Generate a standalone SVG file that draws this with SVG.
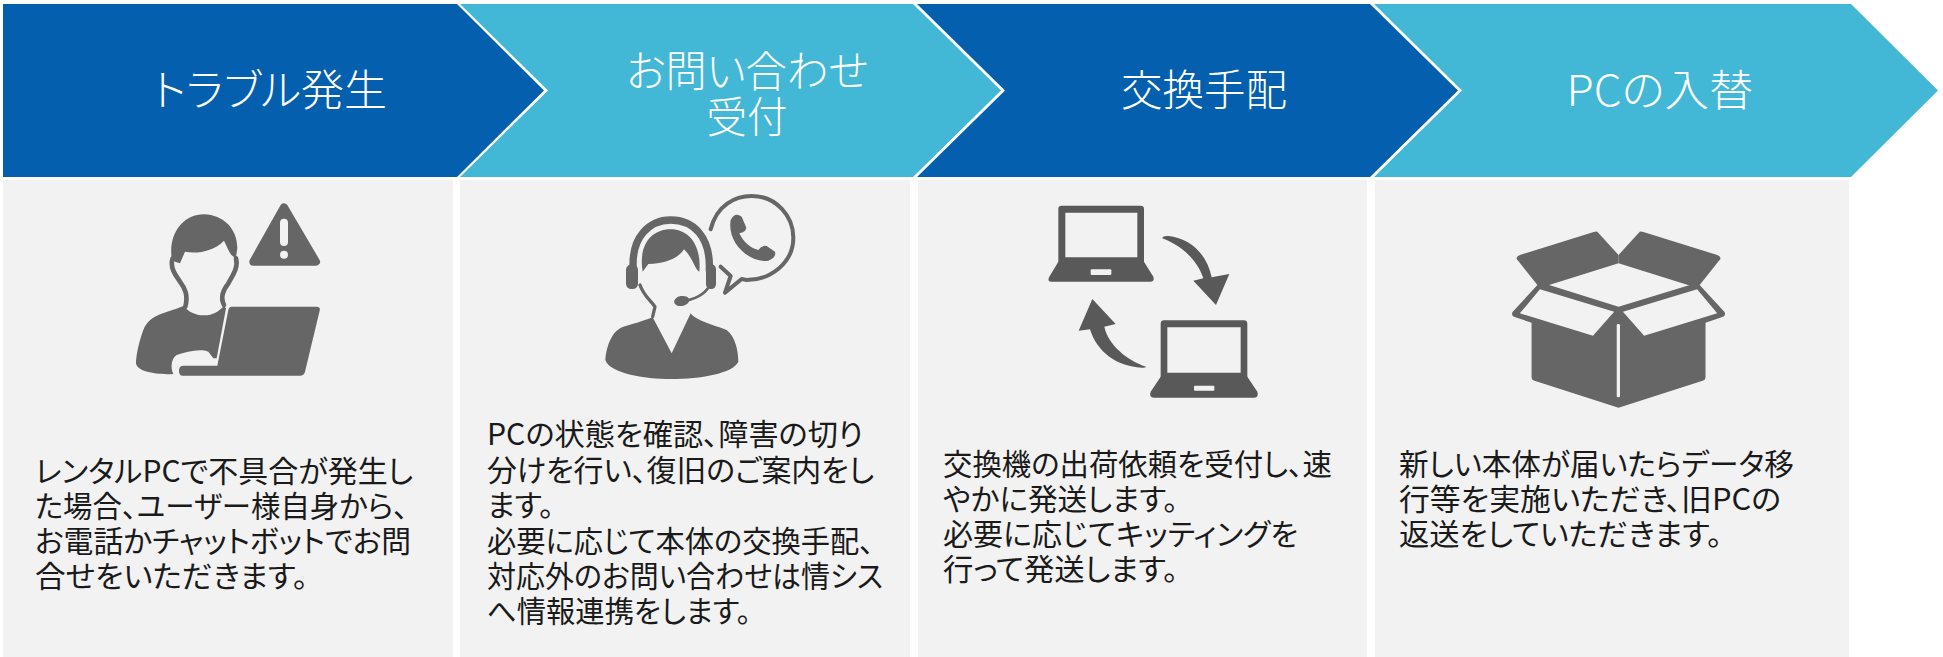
<svg xmlns="http://www.w3.org/2000/svg" width="1943" height="657" viewBox="0 0 1943 657">
<style>
.dark{fill:#0460ae}.light{fill:#42b7d6}.panel{fill:#f2f2f2}
.h{font-family:"Noto Sans CJK JP","Noto Sans",sans-serif;font-size:43px;fill:#fff;text-anchor:middle;font-weight:300;font-feature-settings:"palt"}
.b{font-family:"Noto Sans CJK JP","Noto Sans",sans-serif;font-size:30px;fill:#1a1a1a;font-weight:400;font-feature-settings:"palt"}
.i{fill:#666}.i2{fill:#595959}.bg{fill:#f2f2f2}
.s{fill:none;stroke:#666;stroke-linecap:round;stroke-linejoin:round}
</style>
<rect width="1943" height="657" fill="#fff"/>
<g id="connectors"></g>
<g id="step1">
<rect class="panel" x="3" y="180" width="450" height="477"/>
<polygon class="dark" points="3,4 457,4 544,90.500 457,177 3,177"/>
<text class="h" x="270" y="106" textLength="234" lengthAdjust="spacingAndGlyphs">トラブル発生</text>
<g transform="translate(0,170) scale(.33333)">
<path class="i" d="M515 265C505 190 550 133 612 133C670 135 712 175 712 235L708 262C695 262 690 250 672 212C640 245 590 252 555 245L540 280L525 275Z"/>
<path class="s" stroke-width="14" d="M518 265C508 295 530 320 540 335C555 355 565 375 556 410M708 265C716 295 695 320 685 340C670 360 660 380 672 405"/>
<path class="i" d="M550 408C500 430 450 430 430 480C415 520 408 560 408 580C410 605 470 615 520 612C510 590 515 565 530 555C560 545 600 535 625 545L640 565L650 565L678 415L672 408C655 425 640 436 612 436C585 436 565 425 550 408Z"/>
<path class="i" d="M695 410L950 410Q962 410 959 422L915 605Q912 617 900 617L548 617Q537 617 537 602Q537 587 550 587L652 587L685 420Q688 410 695 410Z"/>
<path fill="#666" stroke="#666" stroke-width="24" stroke-linejoin="round" d="M852 112L948 275L760 275Z"/>
<rect class="bg" x="840" y="146" width="24" height="82" rx="12"/><circle class="bg" cx="852" cy="254" r="12"/>
</g>
<text class="b" x="35" y="482" textLength="378" lengthAdjust="spacingAndGlyphs">レンタルPCで不具合が発生し</text>
<text class="b" x="35" y="517" textLength="373" lengthAdjust="spacingAndGlyphs">た場合、ユーザー様自身から、</text>
<text class="b" x="35" y="552" textLength="376" lengthAdjust="spacingAndGlyphs">お電話かチャットボットでお問</text>
<text class="b" x="35" y="587" textLength="273" lengthAdjust="spacingAndGlyphs">合せをいただきます。</text>
</g>
<g id="step2">
<rect class="panel" x="460" y="180" width="450" height="477"/>
<polygon class="light" points="460,4 913,4 1001,90.500 913,177 460,177 548,90.500"/>
<text class="h" x="747" y="87" textLength="242" lengthAdjust="spacingAndGlyphs">お問い合わせ</text>
<text class="h" x="747" y="133" textLength="81" lengthAdjust="spacingAndGlyphs">受付</text>
<g transform="translate(460,170) scale(.33333)">
<path class="s" stroke-width="22" d="M520 300C512 200 570 150 632 150C700 150 752 200 748 300"/>
<rect class="i" x="498" y="283" width="36" height="74" rx="16"/><rect class="i" x="738" y="283" width="30" height="74" rx="14"/>
<path class="i" d="M548 305C535 230 570 178 632 178C690 178 725 230 718 305C705 300 700 265 672 238C650 270 610 280 565 282Z"/>
<path class="s" stroke-width="8" d="M752 340C740 370 710 385 680 392"/>
<ellipse class="i" cx="665" cy="393" rx="23" ry="15" transform="rotate(-10 665 393)"/>
<path class="s" stroke-width="10" d="M540 345C550 375 570 390 585 410L578 440"/>
<path class="i" d="M578 442L635 550L692 430C705 450 760 465 800 480C825 500 835 540 835 575C820 610 720 627 635 627C550 627 450 610 436 570C440 520 460 480 490 470C530 460 570 445 578 442Z"/>
<path class="s" stroke-width="12" d="M752 178C770 105 825 78 875 78C950 78 1000 140 1000 203C1000 280 930 330 860 330L845 327L795 368L812 318L782 290"/>
<path class="i" d="M812 150Q825 125 845 140L858 170Q862 185 838 190C850 215 870 235 895 240Q905 225 920 228L945 245Q950 262 925 272C870 280 800 220 812 150Z"/>
</g>
<text class="b" x="487" y="445" textLength="376" lengthAdjust="spacingAndGlyphs">PCの状態を確認、障害の切り</text>
<text class="b" x="487" y="481" textLength="387" lengthAdjust="spacingAndGlyphs">分けを行い、復旧のご案内をし</text>
<text class="b" x="487" y="516" textLength="67" lengthAdjust="spacingAndGlyphs">ます。</text>
<text class="b" x="487" y="552" textLength="387" lengthAdjust="spacingAndGlyphs">必要に応じて本体の交換手配、</text>
<text class="b" x="487" y="587" textLength="396" lengthAdjust="spacingAndGlyphs">対応外のお問い合わせは情シス</text>
<text class="b" x="487" y="622" textLength="264" lengthAdjust="spacingAndGlyphs">へ情報連携をします。</text>
</g>
<g id="step3">
<rect class="panel" x="918" y="180" width="449" height="477"/>
<polygon class="dark" points="917,4 1370,4 1458,90.500 1370,177 917,177 1005,90.500"/>
<text class="h" x="1204" y="106" textLength="166" lengthAdjust="spacingAndGlyphs">交換手配</text>
<g transform="translate(920,170) scale(.33333)">
<path class="i2" fill-rule="evenodd" d="M425 107H662Q672 107 672 117V280H415V117Q415 107 425 107ZM436 128V262H652V128Z"/>
<path class="i2" d="M415 275L672 275L700 320Q705 335 690 335L395 335Q380 335 388 320Z"/>
<rect class="bg" x="512" y="298" width="62" height="17" rx="3"/>
<path class="i2" d="M727 205Q728 197 745 198C810 205 860 250 875 322L928 312L888 405L820 332L850 325C830 265 780 225 727 205Z"/>
<path class="i2" fill-rule="evenodd" d="M732 451H972Q982 451 982 461V625H722V461Q722 451 732 451ZM742 472V608H962V472Z"/>
<path class="i2" d="M722 620L982 620L1012 665Q1018 683 1000 683L705 683Q685 683 692 665Z"/>
<rect class="bg" x="822" y="647" width="61" height="15" rx="3"/>
<path class="i2" d="M678 590Q678 593 665 593C590 590 530 545 510 478L476 482L517 387L587 462L553 470C565 525 620 570 678 590Z"/>
</g>
<text class="b" x="943" y="475" textLength="389" lengthAdjust="spacingAndGlyphs">交換機の出荷依頼を受付し、速</text>
<text class="b" x="943" y="510" textLength="235" lengthAdjust="spacingAndGlyphs">やかに発送します。</text>
<text class="b" x="943" y="545" textLength="355" lengthAdjust="spacingAndGlyphs">必要に応じてキッティングを</text>
<text class="b" x="943" y="580" textLength="235" lengthAdjust="spacingAndGlyphs">行って発送します。</text>
</g>
<g id="step4">
<rect class="panel" x="1375" y="180" width="474" height="477"/>
<polygon class="light" points="1374,4 1851,4 1938,90.500 1851,177 1374,177 1462,90.500"/>
<text class="h" x="1660" y="106" textLength="187" lengthAdjust="spacingAndGlyphs">PCの入替</text>
<g transform="translate(1370,0) scale(.36550,.33333)">
<path class="i" d="M622 695L680 765L680 790L490 855L458 855L402 778Q398 770 410 765L612 696Q618 694 622 695Z"/>
<path class="i" d="M738 695L680 765L680 790L870 855L902 855L958 778Q962 770 950 765L748 696Q742 694 738 695Z"/>
<path class="i" d="M458 855L390 936Q385 948 398 952L442 968L442 1130Q442 1140 450 1142L680 1223L910 1142Q918 1140 918 1130L918 968L962 952Q975 948 970 936L902 855L875 855L680 920L490 855Z"/>
<polygon class="bg" points="465,868 668,935 610,1007 410,940"/>
<polygon class="bg" points="895,868 692,935 750,1007 950,940"/>
<rect class="bg" x="675" y="972" width="9" height="220" rx="4"/>
</g>
<text class="b" x="1399" y="475" textLength="395" lengthAdjust="spacingAndGlyphs">新しい本体が届いたらデータ移</text>
<text class="b" x="1399" y="510" textLength="382" lengthAdjust="spacingAndGlyphs">行等を実施いただき、旧PCの</text>
<text class="b" x="1399" y="545" textLength="323" lengthAdjust="spacingAndGlyphs">返送をしていただきます。</text>
</g>
</svg>
